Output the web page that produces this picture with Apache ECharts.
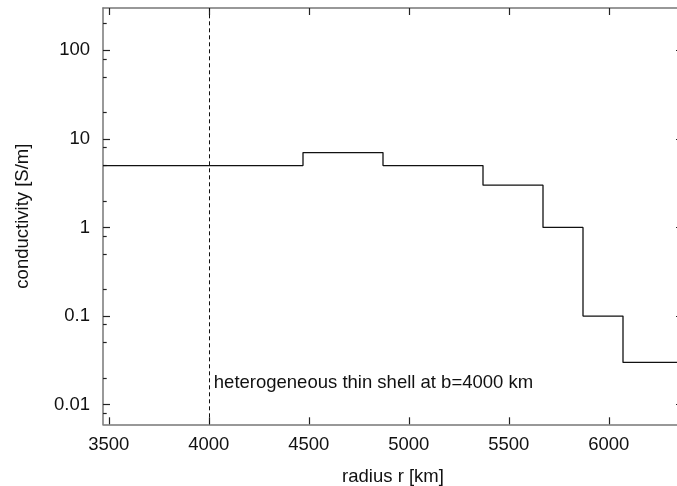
<!DOCTYPE html>
<html>
<head>
<meta charset="utf-8">
<script src="https://cdn.jsdelivr.net/npm/echarts@6/dist/echarts.min.js"></script>
<style>html,body{margin:0;padding:0;background:#fff}#c{width:677px;height:486px}</style>
</head>
<body>
<div id="c"></div>
<script>
// layer boundaries (radius, km) and conductivities (S/m)
const layerStart = [3471, 4471, 4871, 5371, 5671, 5871, 6071];
const surfaceRadius = 6371;
const conductivity = [5, 7, 5, 3, 1, 0.1, 0.03];
const xTicks = [3500, 4000, 4500, 5000, 5500, 6000];
const yTicks = [0.01, 0.1, 1, 10, 100];
const yMinorTicks = [0.008, 0.02, 0.05, 0.08, 0.2, 0.5, 0.8, 2, 5, 8, 20, 50, 80, 200];
const shellRadius = 4000;
const shellLabel = 'heterogeneous thin shell at b=4000 km';
const shellLabelY = 0.0177;

const stepData = layerStart.map((r, i) => [r, conductivity[i]]);
stepData.push([surfaceRadius, conductivity[conductivity.length - 1]]);

const FONT = 'Liberation Sans, Arial, sans-serif';
const FS = 18.5;
const axisLine = {show: true, lineStyle: {color: '#777', width: 1.5}};

const chart = echarts.init(document.getElementById('c'));
chart.setOption({
  animation: false,
  backgroundColor: '#fff',
  grid: {left: 103, top: 8, width: 580, height: 416.3, containLabel: false, outerBoundsMode: 'none'},
  xAxis: [
    {type: 'value', min: 3471, max: 6371, position: 'bottom',
     name: 'radius r [km]', nameLocation: 'middle', nameGap: 43,
     nameTextStyle: {fontFamily: FONT, fontSize: FS, color: '#111'},
     axisLine: axisLine, splitLine: {show: false},
     axisTick: {show: true, inside: true, length: 7, lineStyle: {color: '#222', width: 1.2}, customValues: xTicks},
     axisLabel: {show: true, margin: 11, fontFamily: FONT, fontSize: FS, color: '#111', customValues: xTicks,
       formatter: v => String(v)}},
    {type: 'value', min: 3471, max: 6371, position: 'top',
     axisLine: axisLine, splitLine: {show: false},
     axisTick: {show: true, inside: true, length: 7, lineStyle: {color: '#222', width: 1.2}, customValues: xTicks},
     axisLabel: {show: false}}
  ],
  yAxis: [
    {type: 'log', logBase: 10, min: 0.006, max: 300, position: 'left',
     name: 'conductivity [S/m]', nameLocation: 'middle', nameGap: 71, nameRotate: 90,
     nameTextStyle: {fontFamily: FONT, fontSize: FS, color: '#111'},
     axisLine: axisLine, splitLine: {show: false},
     axisTick: {show: true, inside: true, length: 7, lineStyle: {color: '#222', width: 1.2}, customValues: yTicks},
     axisLabel: {show: true, margin: 13, fontFamily: FONT, fontSize: FS, color: '#111', customValues: yTicks,
       formatter: v => String(v)}},
    {type: 'log', logBase: 10, min: 0.006, max: 300, position: 'right',
     axisLine: axisLine, splitLine: {show: false},
     axisTick: {show: true, inside: true, length: 7, lineStyle: {color: '#222', width: 1.2}, customValues: yTicks},
     axisLabel: {show: false}},
    {type: 'log', logBase: 10, min: 0.006, max: 300, position: 'left', offset: 0,
     axisLine: {show: false}, splitLine: {show: false},
     axisTick: {show: true, inside: true, length: 3.7, lineStyle: {color: '#222', width: 1.2}, customValues: yMinorTicks},
     axisLabel: {show: false}}
  ],
  series: [
    {type: 'line', step: 'end', data: stepData, xAxisIndex: 0, yAxisIndex: 0,
     symbol: 'none', lineStyle: {color: '#111', width: 1.3},
     markLine: {silent: true, symbol: ['none', 'none'], label: {show: false},
       lineStyle: {color: '#111', width: 1, type: [4, 3]},
       data: [{xAxis: shellRadius}]}},
    {type: 'scatter', data: [[shellRadius, shellLabelY]], xAxisIndex: 0, yAxisIndex: 0,
     symbolSize: 0, silent: true, itemStyle: {opacity: 1},
     label: {show: true, position: 'right', distance: 5, formatter: shellLabel, opacity: 1,
       fontFamily: FONT, fontSize: FS, color: '#111'}}
  ]
});
</script>
</body>
</html>
